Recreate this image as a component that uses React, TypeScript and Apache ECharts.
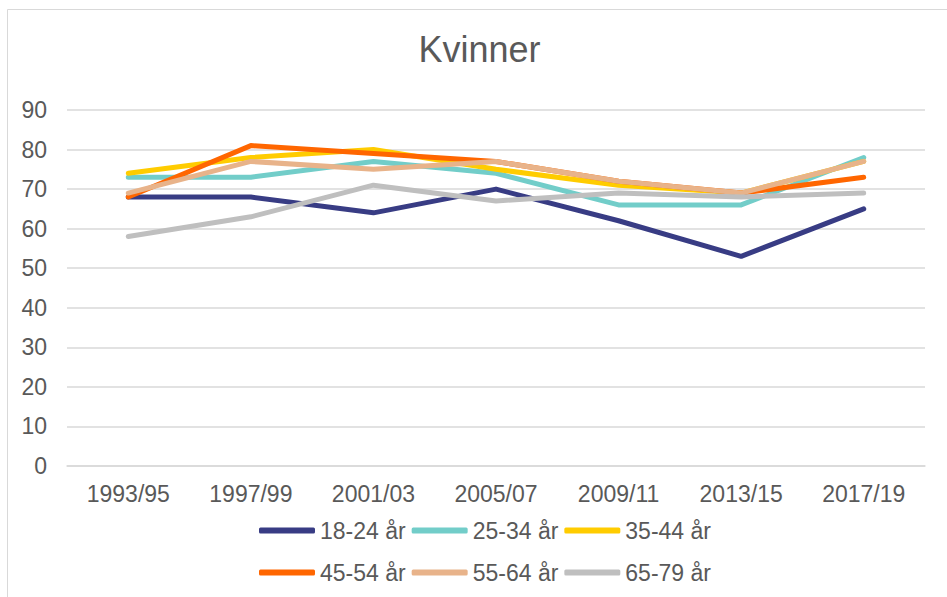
import React, { useEffect, useRef } from "react";
import * as echarts from "echarts";

const categories = ["1993/95", "1997/99", "2001/03", "2005/07", "2009/11", "2013/15", "2017/19"];
const seriesNames = ["18-24 år", "25-34 år", "35-44 år", "45-54 år", "55-64 år", "65-79 år"];
const s1824 = [68, 68, 64, 70, 62, 53, 65];
const s2534 = [73, 73, 77, 74, 66, 66, 78];
const s3544 = [74, 78, 80, 75, 71, 69, 77];
const s4554 = [68, 81, 79, 77, 72, 69, 73];
const s5564 = [69, 77, 75, 77, 72, 69, 77];
const s6579 = [58, 63, 71, 67, 69, 68, 69];
const colors = ["#383C84", "#72CDC9", "#FFCC00", "#FF6600", "#E8B38A", "#BFBFBF"];
const title = "Kvinner";

const FONT = "'Liberation Sans', Arial, sans-serif";
const TEXT = "#595959";

export default function App() {
  const ref = useRef<HTMLDivElement>(null);
  useEffect(() => {
    if (!ref.current) return;
    const chart = echarts.init(ref.current, null, { renderer: "svg" });
    const data = [s1824, s2534, s3544, s4554, s5564, s6579];
    const legendCommon = {
      orient: "horizontal" as const,
      left: 254,
      itemWidth: 56,
      itemHeight: 6,
      itemGap: 6,
      icon: "roundRect",
      textStyle: { fontSize: 23, color: TEXT, fontFamily: FONT },
    };
    chart.setOption({
      animation: false,
      color: colors,
      textStyle: { fontFamily: FONT },
      graphic: [
        {
          type: "rect",
          shape: { x: 7.5, y: 9.5, width: 1000, height: 1000 },
          style: { fill: "none", stroke: "#D9D9D9", lineWidth: 1 },
          silent: true,
        },
        {
          type: "text",
          x: 479.5,
          y: 49,
          style: {
            text: title,
            fontSize: 36,
            fill: TEXT,
            fontFamily: FONT,
            textAlign: "center",
            textVerticalAlign: "middle",
          },
        },
      ],
      legend: [
        { ...legendCommon, top: 514, data: seriesNames.slice(0, 3) },
        { ...legendCommon, top: 556, data: seriesNames.slice(3, 6) },
      ],
      grid: { left: 67, right: 22, top: 110, bottom: 131, containLabel: false },
      xAxis: {
        type: "category",
        data: categories,
        boundaryGap: true,
        axisLine: { show: true, lineStyle: { color: "#D9D9D9", width: 1.5 } },
        axisTick: { show: false },
        axisLabel: { fontSize: 23, color: TEXT, fontFamily: FONT, margin: 16 },
      },
      yAxis: {
        type: "value",
        min: 0,
        max: 90,
        interval: 10,
        axisLine: { show: false },
        axisTick: { show: false },
        splitLine: { lineStyle: { color: "#D9D9D9", width: 1.5 } },
        axisLabel: { fontSize: 23, color: TEXT, fontFamily: FONT, margin: 20 },
      },
      series: seriesNames.map((name, i) => ({
        name,
        type: "line",
        data: data[i],
        symbol: "none",
        showSymbol: false,
        lineStyle: { width: 5, color: colors[i], cap: "round", join: "round" },
        itemStyle: { color: colors[i] },
      })),
    });
    return () => chart.dispose();
  }, []);
  return (
    <div
      ref={ref}
      style={{ position: "fixed", left: 0, top: 0, width: 947, height: 597, background: "#fff" }}
    />
  );
}
